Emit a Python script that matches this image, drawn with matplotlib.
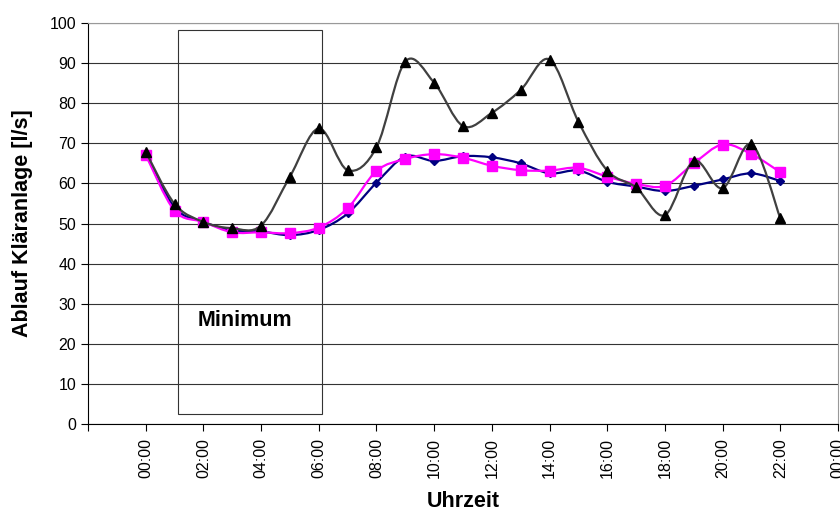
import matplotlib.pyplot as plt
from matplotlib.path import Path
from matplotlib.patches import PathPatch, Rectangle

plt.rcParams['font.family'] = ['Liberation Sans', 'DejaVu Sans']

hours = list(range(23))
navy_vals = [67.5, 54.0, 50.4, 48.3, 48.0, 47.1, 48.4, 52.5, 60.2, 66.7, 65.6, 66.8,
             66.5, 65.0, 62.5, 63.2, 60.4, 59.2, 58.1, 59.4, 61.0, 62.5, 60.6]
pink_vals = [67.1, 53.2, 50.4, 47.8, 47.8, 47.6, 49.0, 53.8, 63.1, 66.1, 67.3, 66.4,
             64.4, 63.3, 63.2, 63.9, 61.7, 59.9, 59.4, 65.0, 69.7, 67.3, 62.8]
black_vals = [67.9, 54.9, 50.4, 48.8, 49.5, 61.7, 73.7, 63.3, 69.0, 90.4, 85.1, 74.3,
              77.6, 83.3, 90.9, 75.4, 63.2, 59.0, 52.1, 65.6, 58.8, 69.8, 51.3]
tick_hours = list(range(-2, 25, 2))
tick_labels = ['' if h < 0 else '%02d:00' % (h % 24) for h in tick_hours]


def smooth_path(xs, ys):
    # Excel-style smoothed line: Catmull-Rom as cubic Bezier segments
    pts = list(zip(xs, ys))
    verts = [pts[0]]
    codes = [Path.MOVETO]
    n = len(pts)
    for i in range(n - 1):
        p0 = pts[max(i - 1, 0)]
        p1 = pts[i]
        p2 = pts[i + 1]
        p3 = pts[min(i + 2, n - 1)]
        c1 = (p1[0] + (p2[0] - p0[0]) / 6, p1[1] + (p2[1] - p0[1]) / 6)
        c2 = (p2[0] - (p3[0] - p1[0]) / 6, p2[1] - (p3[1] - p1[1]) / 6)
        verts += [c1, c2, p2]
        codes += [Path.CURVE4] * 3
    return Path(verts, codes)


fig = plt.figure(figsize=(8.4, 5.16), dpi=100)
ax = fig.add_axes([0.1048, 0.1783, 0.8928, 0.7771])

series = [
    (navy_vals, '#000080', '#000080', 'D', 4.5),
    (pink_vals, '#FF00FF', '#FF00FF', 's', 6.5),
    (black_vals, '#404040', '#000000', '^', 7),
]
for z, (vals, lc, mc, mk, ms) in enumerate(series):
    ax.add_patch(PathPatch(smooth_path(hours, vals), facecolor='none', edgecolor=lc,
                           lw=1.6, zorder=3 + z))
    ax.plot(hours, vals, linestyle='none', marker=mk, ms=ms, color=mc, zorder=3.5 + z)

ax.add_patch(Rectangle((1.12, 2.4), 5.0, 95.9, facecolor='none', edgecolor='#333333',
                       lw=0.8, zorder=2))
ax.text(3.45, 25.9, 'Minimum', ha='center', va='center', fontsize=15.5, fontweight='bold')

ax.set_xlim(-2, 24)
ax.set_ylim(0, 100)
ax.set_yticks(range(0, 101, 10))
ax.set_xticks(tick_hours)
ax.set_xticklabels(tick_labels, rotation=90)
ax.tick_params(axis='both', labelsize=11.5, direction='out', length=5, width=0.8)
ax.tick_params(axis='x', pad=5)
ax.grid(axis='y', color='#333333', lw=0.8)
ax.set_axisbelow(True)
for s in ['top', 'right']:
    ax.spines[s].set_color('#999999')
for s in ['left', 'bottom']:
    ax.spines[s].set_color('#000000')

ax.set_xlabel('Uhrzeit', fontsize=15.5, fontweight='bold')
ax.set_ylabel('Ablauf Kläranlage [l/s]', fontsize=15.5, fontweight='bold')
ax.xaxis.set_label_coords(0.5, -0.168)
ax.yaxis.set_label_coords(-0.088, 0.5)
ax.yaxis.label.set_va('center')

fig.savefig('out.png', dpi=100)
